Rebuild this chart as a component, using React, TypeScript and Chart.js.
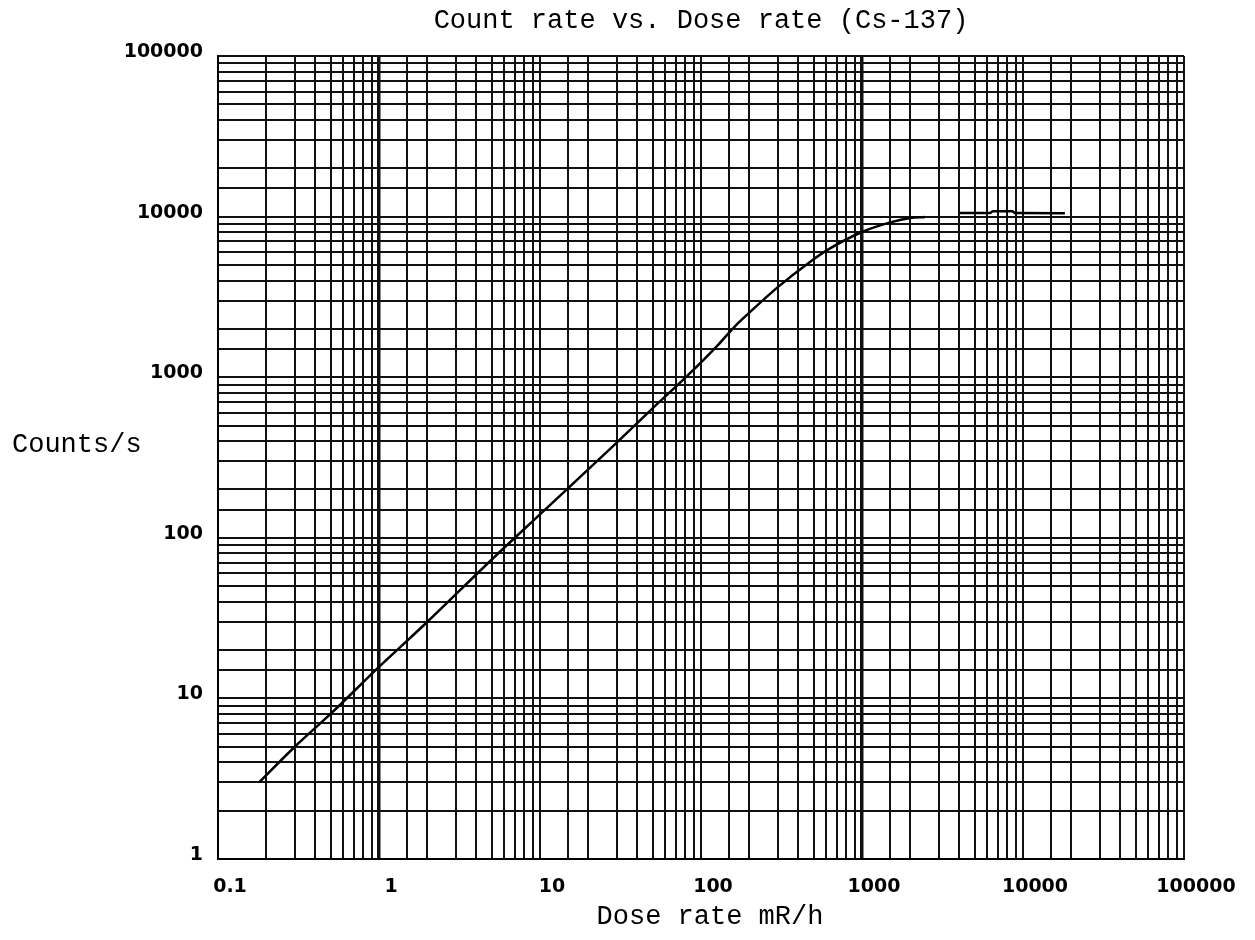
import React, { useEffect, useRef } from 'react';
import { Chart, registerables } from 'chart.js';

Chart.register(...registerables);

// Dose rate (mR/h) and count rate (counts/s); null = gap in the curve
const doseRate = [0.18, 0.3, 0.5, 1, 2, 5, 10, 28, 50, 83, 130, 163, 196, 300, 475, 607, 1000, 1500, 1990, 2460, 3200, 4060, 6240, 6500, 8600, 8910, 18200];
const countRate = [3, 5, 8, 15.7, 30, 73, 140, 367, 640, 1030, 1620, 2080, 2480, 3640, 5220, 6180, 8020, 9200, 9800, 9950, null, 10520, 10520, 10800, 10800, 10520, 10500];

const xTickLabels = ['0.1', '1', '10', '100', '1000', '10000', '100000'];
const yTickLabels = ['1', '10', '100', '1000', '10000', '100000'];
const thickXLines = [1, 1000];

const chartTitle = 'Count rate vs. Dose rate (Cs-137)';
const xTitle = 'Dose rate mR/h';
const yTitle = 'Counts/s';

const W = 1255;
const H = 940;

const titlesPlugin = {
  id: 'titlesPlugin',
  afterDraw(chart: any) {
    const ctx = chart.ctx;
    const area = chart.chartArea;
    ctx.save();
    ctx.font = '27px "Liberation Mono"';
    ctx.fillStyle = '#000';
    ctx.textBaseline = 'middle';
    ctx.textAlign = 'center';
    ctx.fillText(chartTitle, (area.left + area.right) / 2, 21);
    ctx.fillText(xTitle, (area.left + area.right) / 2 + 9, 917);
    ctx.textAlign = 'left';
    ctx.fillText(yTitle, 12, 445);
    ctx.restore();
  },
};

export default function App() {
  const ref = useRef<HTMLCanvasElement | null>(null);

  useEffect(() => {
    if (!ref.current) return;
    const points = doseRate.map((x, i) => ({ x, y: countRate[i] }));
    const tickFont = { family: 'DejaVu Sans', size: 19, weight: 'bold' as const };
    const chart = new Chart(ref.current, {
      type: 'line',
      data: {
        datasets: [
          {
            data: points as any,
            borderColor: '#000',
            borderWidth: 2.5,
            pointRadius: 0,
            spanGaps: false,
            cubicInterpolationMode: 'monotone',
          },
        ],
      },
      options: {
        responsive: false,
        maintainAspectRatio: false,
        animation: false,
        layout: { padding: { left: 0, right: 71, top: 56, bottom: 0 } },
        plugins: {
          legend: { display: false },
          tooltip: { enabled: false },
          title: { display: false },
        },
        scales: {
          x: {
            type: 'logarithmic',
            position: 'bottom',
            min: 0.1,
            max: 100000,
            afterFit: (s: any) => {
              s.height = 81;
            },
            grid: {
              color: '#111',
              drawTicks: false,
              lineWidth: (c: any) => (c.tick && thickXLines.includes(c.tick.value) ? 3.5 : 2),
            },
            border: { display: true, color: '#000', width: 2 },
            ticks: {
              autoSkip: false,
              maxRotation: 0,
              minRotation: 0,
              padding: 17,
              labelOffset: 12,
              color: '#000',
              font: tickFont,
              callback: (v: any) => {
                const s = String(v);
                return xTickLabels.includes(s) ? s : '';
              },
            },
          },
          y: {
            type: 'logarithmic',
            min: 1,
            max: 100000,
            afterFit: (s: any) => {
              s.width = 218;
            },
            grid: { color: '#111', drawTicks: false, lineWidth: 2 },
            border: { display: true, color: '#000', width: 2 },
            ticks: {
              autoSkip: false,
              padding: 15,
              labelOffset: -4,
              color: '#000',
              font: tickFont,
              callback: (v: any) => {
                const s = String(v);
                return yTickLabels.includes(s) ? s : '';
              },
            },
          },
        },
      },
      plugins: [titlesPlugin],
    });
    return () => chart.destroy();
  }, []);

  return (
    <div style={{ position: 'absolute', left: 0, top: 0, width: W, height: H, background: '#fff' }}>
      <canvas ref={ref} width={W} height={H} style={{ display: 'block' }} />
    </div>
  );
}
